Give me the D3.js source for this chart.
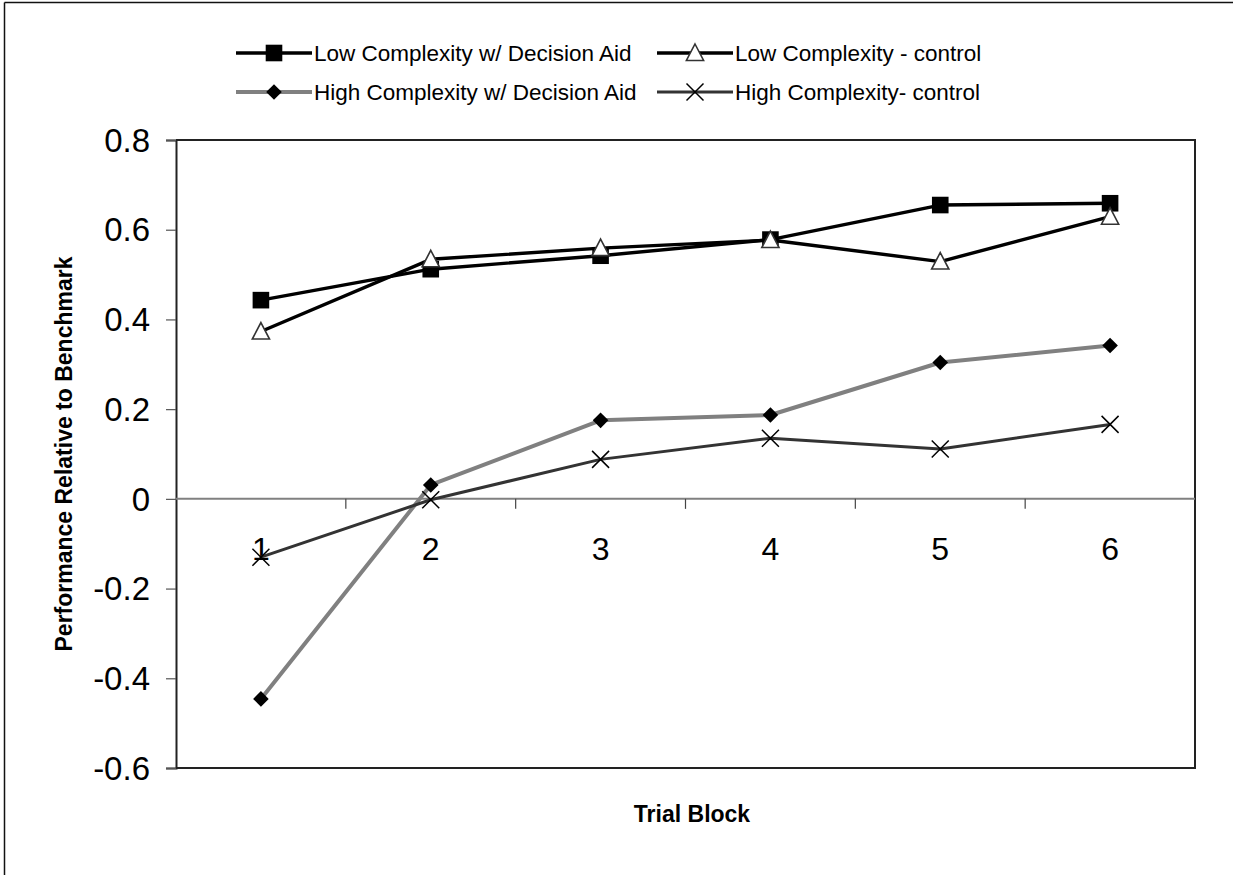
<!DOCTYPE html>
<html>
<head>
<meta charset="utf-8">
<script src="https://cdn.jsdelivr.net/npm/d3@7/dist/d3.min.js"></script>
<style>
  html, body { margin: 0; padding: 0; background: #fff; }
  svg { display: block; font-family: "Liberation Sans", Arial, sans-serif; }
</style>
</head>
<body>
<svg id="chart" width="1233" height="875"></svg>
<script>
// ---- data ----
const categories = ["1", "2", "3", "4", "5", "6"];
const lowAid   = [0.443, 0.512, 0.542, 0.578, 0.655, 0.659];
const lowCtrl  = [0.373, 0.534, 0.559, 0.577, 0.529, 0.629];
const highAid  = [-0.446, 0.031, 0.175, 0.187, 0.304, 0.342];
const highCtrl = [-0.130, -0.002, 0.088, 0.135, 0.111, 0.166];
const seriesNames = [
  "Low Complexity w/ Decision Aid",
  "Low Complexity - control",
  "High Complexity w/ Decision Aid",
  "High Complexity- control"
];
const yTicks = [0.8, 0.6, 0.4, 0.2, 0, -0.2, -0.4, -0.6];
const yTickLabels = ["0.8", "0.6", "0.4", "0.2", "0", "-0.2", "-0.4", "-0.6"];
const yTitle = "Performance Relative to Benchmark";
const xTitle = "Trial Block";

const series = [
  { name: seriesNames[0], values: lowAid,   line: "#000", width: 3.4, marker: "square" },
  { name: seriesNames[1], values: lowCtrl,  line: "#000", width: 3.4, marker: "triangle" },
  { name: seriesNames[2], values: highAid,  line: "#808080", width: 4, marker: "diamond" },
  { name: seriesNames[3], values: highCtrl, line: "#333", width: 3, marker: "cross" }
];

const svg = d3.select("#chart");
const L = 176, R = 1195, T = 140, B = 768;

// outer frame (top and left)
svg.append("line").attr("x1", 4.5).attr("x2", 1233).attr("y1", 2.5).attr("y2", 2.5)
  .attr("stroke", "#111").attr("stroke-width", 1.5);
svg.append("line").attr("x1", 4.5).attr("x2", 4.5).attr("y1", 2.5).attr("y2", 875)
  .attr("stroke", "#111").attr("stroke-width", 1.5);

const x = d3.scaleBand().domain(categories).range([L, R]).paddingInner(0).paddingOuter(0);
const y = d3.scaleLinear().domain([-0.6, 0.8]).range([B, T]);
const cx = c => x(c) + x.bandwidth() / 2;

// plot border (top, right, bottom)
svg.append("path")
  .attr("d", `M${L},${T}H${R}V${B}H${L}`)
  .attr("fill", "none").attr("stroke", "#222").attr("stroke-width", 2);

// y axis
const yAxis = d3.axisLeft(y).tickValues(yTicks)
  .tickFormat((d, i) => yTickLabels[i]).tickSize(10).tickPadding(16);
const gy = svg.append("g").attr("transform", `translate(${L},0)`).call(yAxis);
gy.select(".domain").attr("stroke", "#222").attr("stroke-width", 2);
gy.selectAll(".tick line").attr("stroke", "#555").attr("stroke-width", 1.2);
gy.selectAll(".tick text").attr("font-size", 33).attr("fill", "#000")
  .attr("font-family", "Liberation Sans, Arial, sans-serif").attr("dy", "0.34em");

// x axis at zero, with ticks at category boundaries
const gx = svg.append("g").attr("transform", `translate(0,${y(0)})`);
gx.append("line").attr("x1", L).attr("x2", R).attr("y1", 0).attr("y2", 0)
  .attr("stroke", "#808080").attr("stroke-width", 2);
gx.selectAll("line.bt").data(categories.slice(1)).enter().append("line")
  .attr("class", "bt")
  .attr("x1", d => x(d)).attr("x2", d => x(d)).attr("y1", 0).attr("y2", 10)
  .attr("stroke", "#444").attr("stroke-width", 1.2);
gx.selectAll("text").data(categories).enter().append("text")
  .attr("x", d => cx(d)).attr("y", 61).attr("text-anchor", "middle")
  .attr("font-size", 32).attr("fill", "#000").text(d => d);

// lines and markers
const lineGen = d3.line().x((d, i) => cx(categories[i])).y(d => y(d));
function drawMarker(g, type, px, py) {
  if (type === "square") {
    g.append("rect").attr("x", px - 8.3).attr("y", py - 8.3).attr("width", 16.6).attr("height", 16.6)
      .attr("fill", "#000");
  } else if (type === "triangle") {
    g.append("path").attr("d", `M${px},${py - 9}L${px + 8.6},${py + 7.5}L${px - 8.6},${py + 7.5}Z`)
      .attr("fill", "#fff").attr("stroke", "#333").attr("stroke-width", 1.6);
  } else if (type === "diamond") {
    g.append("path").attr("d", `M${px},${py - 7.8}L${px + 7.8},${py}L${px},${py + 7.8}L${px - 7.8},${py}Z`)
      .attr("fill", "#000");
  } else if (type === "cross") {
    g.append("path").attr("d", `M${px - 8.5},${py - 8.5}L${px + 8.5},${py + 8.5}M${px + 8.5},${py - 8.5}L${px - 8.5},${py + 8.5}`)
      .attr("stroke", "#000").attr("stroke-width", 1.5).attr("fill", "none");
  }
}
series.forEach(s => {
  const g = svg.append("g");
  g.append("path").attr("d", lineGen(s.values)).attr("fill", "none")
    .attr("stroke", s.line).attr("stroke-width", s.width).attr("stroke-linejoin", "round");
  s.values.forEach((v, i) => drawMarker(g, s.marker, cx(categories[i]), y(v)));
});

// axis titles
svg.append("text").attr("transform", `translate(72,${(T + B) / 2}) rotate(-90)`)
  .attr("text-anchor", "middle").attr("font-size", 23).attr("font-weight", "bold")
  .text(yTitle);
svg.append("text").attr("x", 692).attr("y", 822).attr("text-anchor", "middle")
  .attr("font-size", 23).attr("font-weight", "bold").text(xTitle);

// legend
const legCols = [236, 657], legRows = [53, 92], legLine = 76;
series.forEach((s, i) => {
  const lx = legCols[i % 2], ly = legRows[Math.floor(i / 2)];
  const g = svg.append("g");
  g.append("line").attr("x1", lx).attr("x2", lx + legLine).attr("y1", ly).attr("y2", ly)
    .attr("stroke", s.line).attr("stroke-width", s.width);
  drawMarker(g, s.marker, lx + legLine / 2, ly);
  g.append("text").attr("x", lx + legLine + 2).attr("y", ly).attr("dy", "0.35em")
    .attr("font-size", 22.5).attr("fill", "#000").text(s.name);
});
</script>
</body>
</html>
